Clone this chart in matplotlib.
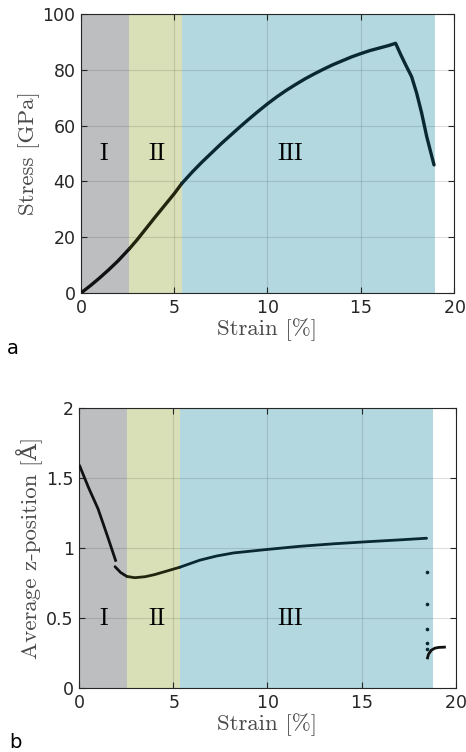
import numpy as np
import matplotlib
matplotlib.use("Agg")
import matplotlib.pyplot as plt

# ---------------- data ----------------
region_edges = [0.0, 2.6, 5.4, 18.98]          # panel a regions (strain %)
region_edges_b = [0.0, 2.53, 5.35, 18.77]      # panel b regions
region_labels = ["I", "II", "III"]
region_label_x = [1.23, 4.06, 11.24]
region_label_x_b = [1.31, 4.11, 11.2]

strain_a = [0, 0.5, 1, 1.5, 2, 2.6, 3, 3.5, 4, 4.5, 5, 5.4, 6, 6.5, 7, 7.5,
            8, 8.5, 9, 9.5, 10, 10.5, 11, 11.5, 12, 12.5, 13, 13.5, 14, 14.5,
            15, 15.5, 16, 16.5, 16.87, 17.14, 17.37, 17.73, 18.0, 18.27,
            18.54, 18.93]
stress_a = [0, 2.6, 5.4, 8.4, 11.6, 15.9, 19.0, 23.2, 27.4, 31.5, 35.6, 39.2,
            43.6, 47.0, 50.2, 53.4, 56.4, 59.4, 62.3, 65.1, 67.8, 70.3, 72.6,
            74.7, 76.7, 78.5, 80.2, 81.8, 83.2, 84.6, 85.8, 86.9, 87.8, 88.7,
            89.5, 85.5, 82.3, 77.5, 71.6, 64.4, 56.0, 45.9]

strain_b1 = [0.03, 0.5, 1.0, 1.5, 1.93]
z_b1 = [1.585, 1.43, 1.28, 1.085, 0.912]
strain_b2 = [1.9, 2.2, 2.53, 2.95, 3.5, 4.0, 4.64, 5.35, 6.4, 7.3, 8.2, 10,
             11.7, 13.5, 15.3, 17, 18.45]
z_b2 = [0.867, 0.825, 0.797, 0.788, 0.795, 0.81, 0.835, 0.863, 0.913, 0.943,
        0.965, 0.99, 1.012, 1.03, 1.045, 1.058, 1.07]
strain_dots = [18.45, 18.45, 18.45, 18.45, 18.45]
z_dots = [0.829, 0.598, 0.419, 0.32, 0.276]
strain_b3 = [18.5, 18.55, 18.7, 18.9, 19.1, 19.4]
z_b3 = [0.215, 0.24, 0.27, 0.285, 0.29, 0.292]

region_colors = ["#bdbec0", "#d9e0b8", "#b3d8e0"]
line_colors = ["#111111", "#22240e", "#0a2830"]

# ---------------- style ----------------
serif = ["cmr10", "DejaVu Serif"]
plt.rcParams["font.family"] = ["DejaVu Sans"]
plt.rcParams["axes.formatter.use_mathtext"] = True
tick_col = "#262626"
label_col = "#4a4a4a"

fig = plt.figure(figsize=(4.66, 7.52), dpi=100)
ax1 = fig.add_axes([0.1738, 0.6104, 0.8004, 0.371])
ax2 = fig.add_axes([0.170, 0.0851, 0.808, 0.3723])


def style(ax, ylim, yticks):
    ax.set_xlim(0, 20)
    ax.set_ylim(*ylim)
    ax.set_xticks([0, 5, 10, 15, 20])
    ax.set_yticks(yticks)
    ax.yaxis.set_major_formatter(matplotlib.ticker.FormatStrFormatter("%g"))
    ax.tick_params(direction="in", top=True, right=True, labelsize=12.5,
                   colors=tick_col, length=4, width=0.8, pad=4)
    for s in ax.spines.values():
        s.set_color(tick_col)
        s.set_linewidth(0.8)
    ax.grid(True, color="#262626", alpha=0.15, linewidth=0.8, zorder=2)
    ax.set_axisbelow(False)


def colored_line(ax, xs, ys, edges, lw=2.3):
    xs = np.asarray(xs, float)
    ys = np.asarray(ys, float)
    for i in range(3):
        lo, hi = edges[i], edges[i + 1]
        m = (xs >= lo - 0.01) & (xs <= hi + 0.01)
        if i == 2:
            m = xs >= lo - 0.01
        if m.sum() >= 2:
            ax.plot(xs[m], ys[m], color=line_colors[i], lw=lw,
                    solid_capstyle="round", solid_joinstyle="round", zorder=4)


# panel a
for i in range(3):
    ax1.axvspan(region_edges[i], region_edges[i + 1], color=region_colors[i],
                lw=0, zorder=1)
style(ax1, (0, 100), [0, 20, 40, 60, 80, 100])
colored_line(ax1, strain_a, stress_a, region_edges, lw=2.4)
for lx, lab in zip(region_label_x, region_labels):
    ax1.text(lx, 50, lab, ha="center", va="center", fontsize=17,
             family=serif, zorder=5)
ax1.set_xlabel("Strain [%]", family=serif, fontsize=16.5, color=label_col,
               labelpad=1)
ax1.set_ylabel("Stress [GPa]", family=serif, fontsize=16.5, color=label_col,
               labelpad=2)

# panel b
for i in range(3):
    ax2.axvspan(region_edges_b[i], region_edges_b[i + 1],
                color=region_colors[i], lw=0, zorder=1)
style(ax2, (0, 2), [0, 0.5, 1, 1.5, 2])
ax2.plot(strain_b1, z_b1, color=line_colors[0], lw=2.0, zorder=4,
         solid_joinstyle="round")
colored_line(ax2, strain_b2, z_b2, region_edges_b, lw=2.0)
ax2.plot(strain_dots, z_dots, ls="none", marker="o", ms=1.6,
         color=line_colors[2], zorder=4)
ax2.plot(strain_b3, z_b3, color="#111111", lw=2.0, zorder=4)
for lx, lab in zip(region_label_x_b, region_labels):
    ax2.text(lx, 0.49, lab, ha="center", va="center", fontsize=17,
             family=serif, zorder=5)
ax2.set_xlabel("Strain [%]", family=serif, fontsize=16.5, color=label_col,
               labelpad=1)
ax2.set_ylabel("Average z-position [Å]", family=serif, fontsize=16.5,
               color=label_col, labelpad=2)

fig.text(0.028, 0.536, "a", fontsize=14, ha="center", va="center")
fig.text(0.034, 0.012, "b", fontsize=14, ha="center", va="center")

fig.savefig("out.png", dpi=100)
